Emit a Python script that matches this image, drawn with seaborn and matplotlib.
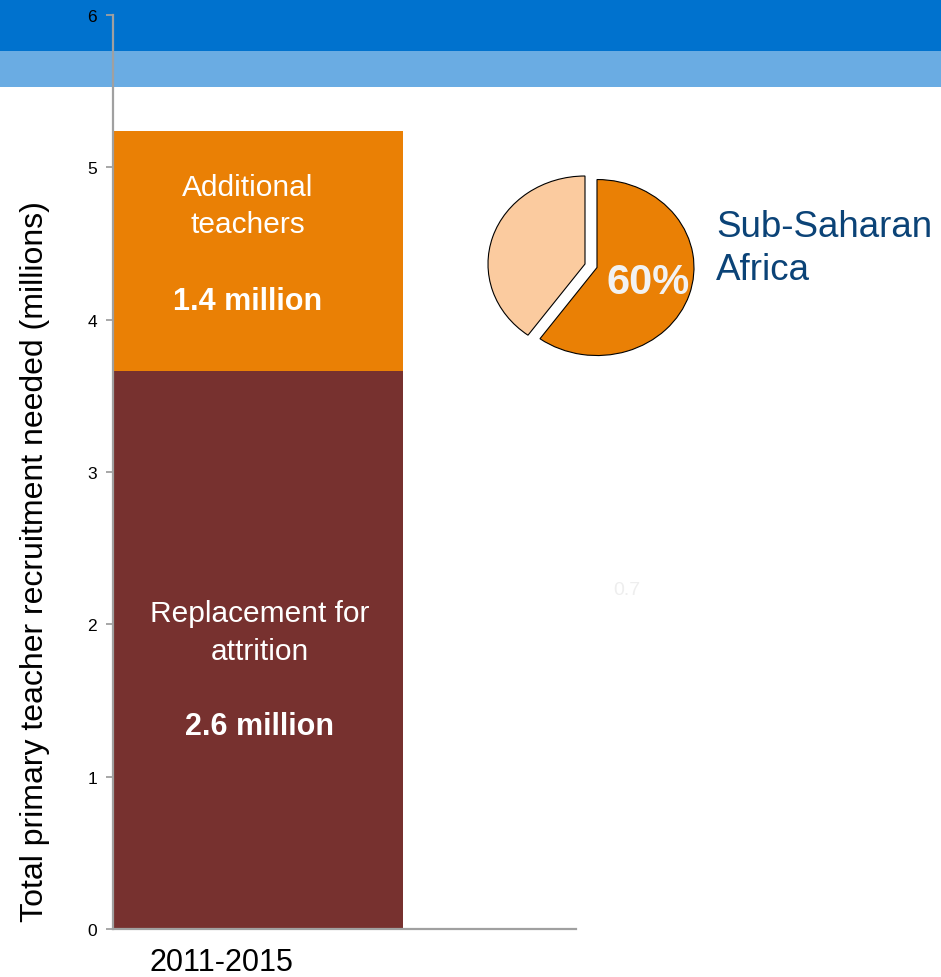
import matplotlib
matplotlib.use("Agg")
import matplotlib.pyplot as plt
from matplotlib.patches import Rectangle
from matplotlib.transforms import ScaledTranslation
import pandas as pd
import seaborn as sns

# Recruitment needs, 2011-2015 (millions of primary teachers)
periods = ["2011-2015"]
replacement = [3.66]
additional = [1.58]
replacement_text = ["Replacement for\nattrition", "2.6 million"]
additional_text = ["Additional\nteachers", "1.4 million"]

# Share of the additional teachers needed in Sub-Saharan Africa
pie_labels = ["Sub-Saharan Africa", "Rest of world"]
pie_shares = [60, 40]
pie_text = "60%"
region_text = "Sub-Saharan\nAfrica"
faint_note = "0.7"

y_ticks = [0, 1, 2, 3, 4, 5, 6]
y_title = "Total primary teacher recruitment needed (millions)"

ORANGE = "#EA8005"
BROWN = "#77312F"
PEACH = "#FBCB9F"
AXIS_GREY = "#A0A0A0"
NAVY = "#0B4377"

sns.set_style("ticks")
plt.rcParams["font.family"] = ["Liberation Sans", "DejaVu Sans"]
plt.rcParams["text.color"] = "black"
plt.rcParams["axes.labelcolor"] = "black"
plt.rcParams["xtick.color"] = "black"
plt.rcParams["ytick.color"] = "black"

W, H = 941, 978
fig = plt.figure(figsize=(W / 100, H / 100), dpi=100)
fig.patch.set_facecolor("white")

# Header bands
fig.patches.append(Rectangle((0, 1 - 52 / H), 1, 52 / H, transform=fig.transFigure,
                             facecolor="#0072CE", edgecolor="none", zorder=-2))
fig.patches.append(Rectangle((0, 1 - 88 / H), 1, 36 / H, transform=fig.transFigure,
                             facecolor="#6AACE3", edgecolor="none", zorder=-2))

# Main stacked bar axes (pixel box 113..576 x 16..930)
ax = fig.add_axes([113 / W, 1 - 930 / H, (576 - 113) / W, (930 - 16) / H])
ax.patch.set_facecolor("none")

df = pd.DataFrame({
    "period": periods,
    "replacement": replacement,
    "additional": additional,
})
df["total"] = df["replacement"] + df["additional"]

sns.barplot(data=df, x="period", y="total", color=ORANGE, saturation=1,
            width=1.0, linewidth=0, ax=ax)
sns.barplot(data=df, x="period", y="replacement", color=BROWN, saturation=1,
            width=1.0, linewidth=0, ax=ax)

ax.set_xlim(-0.5, -0.5 + 463 / 290)
ax.set_ylim(0, 6)
ax.set_yticks(y_ticks)
ax.set_yticklabels([str(t) for t in y_ticks], fontsize=12.5)
ax.set_xlabel("")
ax.set_ylabel(y_title, fontsize=23, va="center", color="black")
ax.yaxis.set_label_coords((35 - 113) / 463, (930 - 562) / 914)

for side in ("top", "right"):
    ax.spines[side].set_visible(False)
for side in ("left", "bottom"):
    ax.spines[side].set_color(AXIS_GREY)
    ax.spines[side].set_linewidth(1.6)
ax.tick_params(axis="y", length=5, width=1.3, color=AXIS_GREY, pad=6.5, labelcolor="black")
ax.tick_params(axis="x", length=0, pad=13, labelsize=22, labelcolor="black")
for lbl in ax.get_xticklabels():
    lbl.set_transform(lbl.get_transform() + ScaledTranslation(-0.37, 0, fig.dpi_scale_trans))

# Segment annotations
bar_mid = 0
ax.text(bar_mid - 0.035, 4.75, additional_text[0],
        ha="center", va="center", color="white", fontsize=21.5, linespacing=1.43)
ax.text(bar_mid - 0.035, 4.12, additional_text[1],
        ha="center", va="center", color="white", fontsize=22, fontweight="bold")
ax.text(bar_mid + 0.005, 1.95, replacement_text[0],
        ha="center", va="center", color="white", fontsize=21.5, linespacing=1.43)
ax.text(bar_mid + 0.005, 1.33, replacement_text[1],
        ha="center", va="center", color="white", fontsize=22, fontweight="bold")

# Faint leftover label
fig.text(627 / W, 1 - 591 / H, faint_note, ha="center", va="center",
         color="#EEEEEE", fontsize=14)

# Pie inset: centre at (585, 265) px, radii 97 x 88 px
cx, cy, rx, ry = 585, 265, 97, 88
k = 1.35
pax = fig.add_axes([(cx - k * rx) / W, 1 - (cy + k * ry) / H, 2 * k * rx / W, 2 * k * ry / H])
pax.pie(pie_shares, colors=[ORANGE, PEACH], startangle=90, counterclock=False,
        explode=[0.13, 0], wedgeprops=dict(edgecolor="black", linewidth=0.8))
pax.set_aspect("auto")
pax.set_xlim(-k, k)
pax.set_ylim(-k, k)
pax.axis("off")

fig.text(648 / W, 1 - 283 / H, pie_text, ha="center", va="center",
         color="#F2F2F2", fontsize=30, fontweight="bold")
fig.text(716 / W, 1 - 249 / H, region_text, ha="left", va="center",
         color=NAVY, fontsize=26.5, linespacing=1.3)

fig.savefig("out.png", dpi=100)
